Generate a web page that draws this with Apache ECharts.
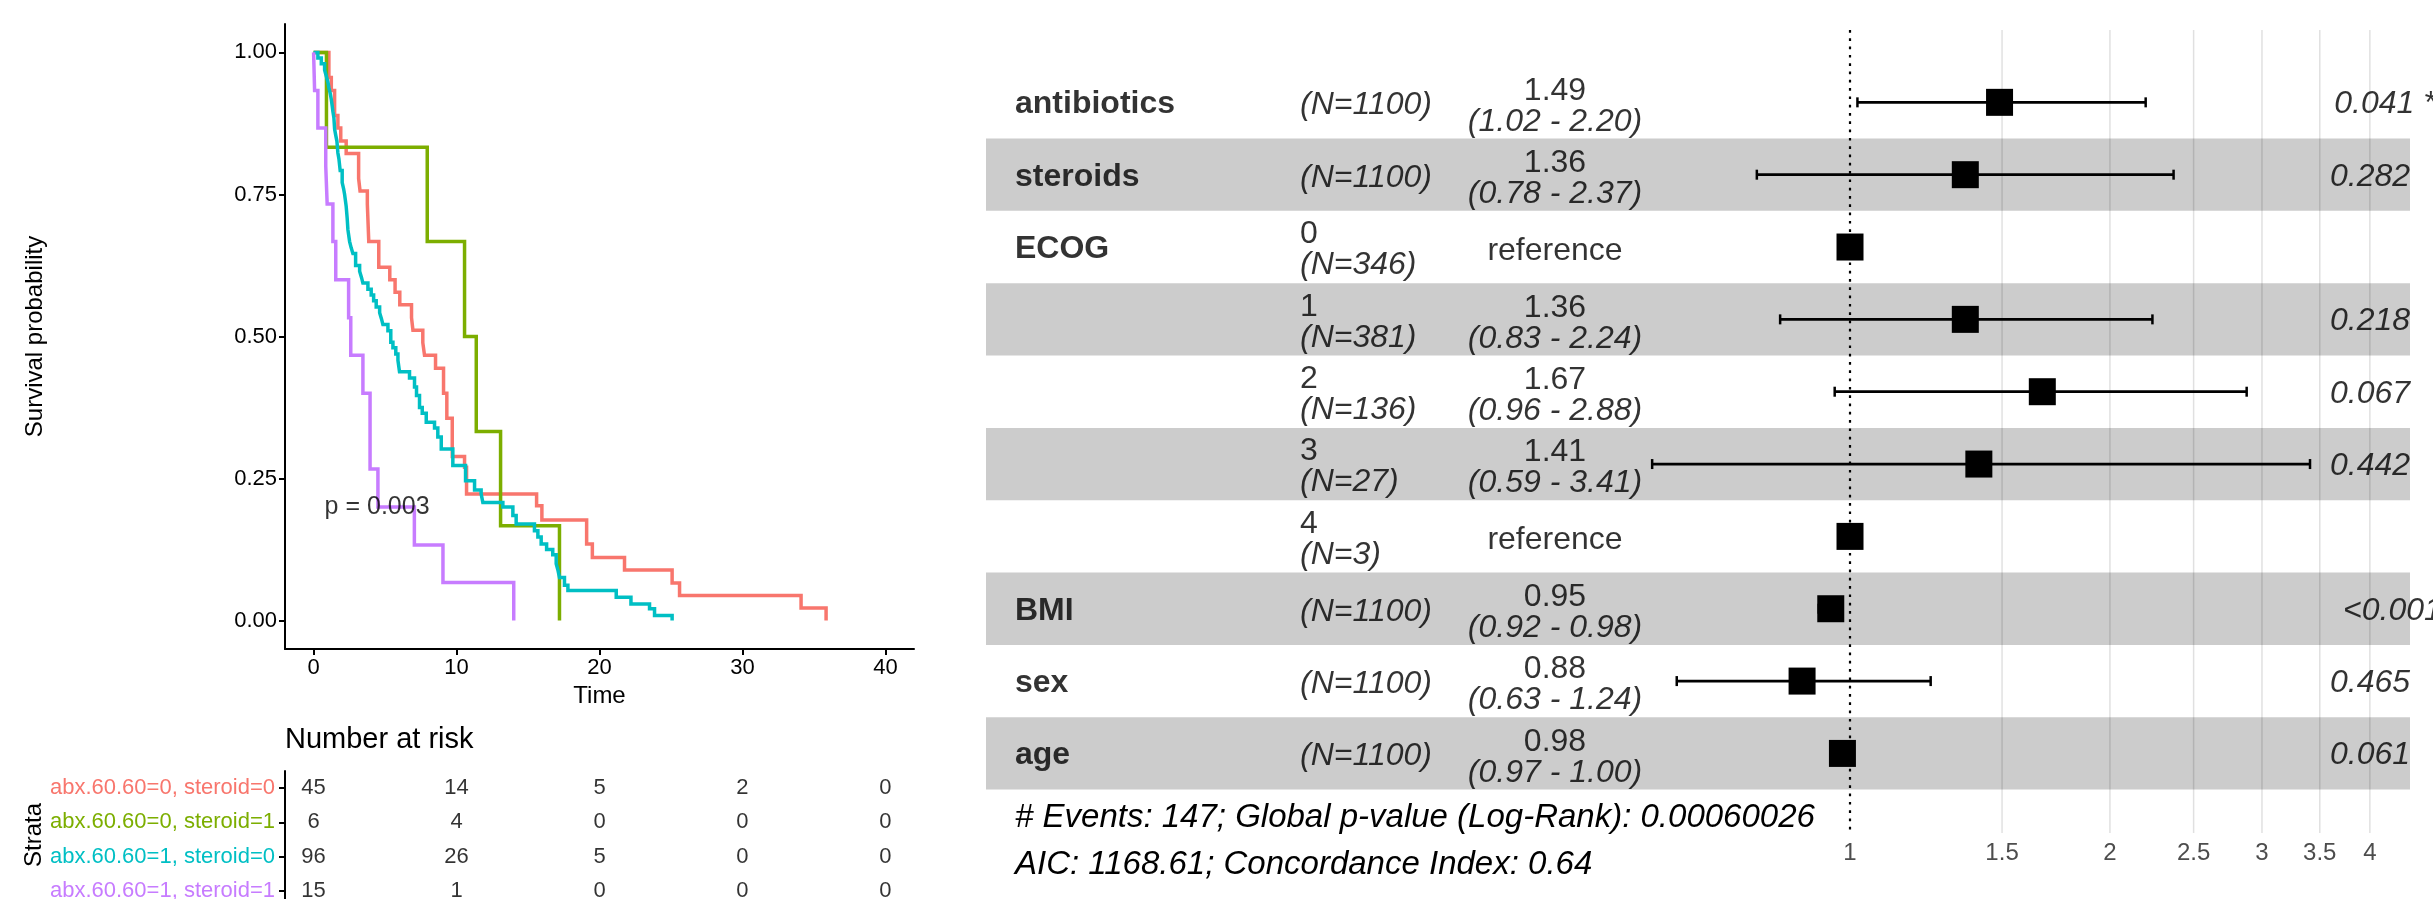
<!DOCTYPE html>
<html><head><meta charset="utf-8">
<script src="https://cdn.jsdelivr.net/npm/echarts@6/dist/echarts.min.js"></script>
<style>html,body{margin:0;padding:0;background:#fff}#c{width:2433px;height:899px}</style>
</head><body><div id="c"></div>
<script>
// ---------------- Kaplan-Meier data ----------------
const strataNames = ['abx.60.60=0, steroid=0', 'abx.60.60=0, steroid=1', 'abx.60.60=1, steroid=0', 'abx.60.60=1, steroid=1'];
const strataColors = ['#F8766D', '#7CAE00', '#00BFC4', '#C77CFF'];

const timeA0S0 = [0, 1.07, 1.24, 1.47, 1.7, 1.9, 2.28, 3.15, 3.25, 3.76, 3.86, 4.56, 5.33, 5.7, 6.03, 6.85, 6.95, 7.64, 7.76, 8.53, 9.09, 9.32, 9.7, 10.56, 10.7, 15.6, 15.97, 19.1, 19.5, 21.75, 25.08, 25.6, 34.1, 35.85];
const survA0S0 = [1, 0.956, 0.933, 0.889, 0.867, 0.844, 0.822, 0.778, 0.756, 0.733, 0.667, 0.622, 0.6, 0.578, 0.556, 0.533, 0.511, 0.489, 0.467, 0.444, 0.4, 0.356, 0.289, 0.27, 0.223, 0.202, 0.177, 0.135, 0.111, 0.089, 0.066, 0.044, 0.022, 0];

const timeA0S1 = [0, 0.9, 7.95, 10.56, 11.38, 13.08, 17.2];
const survA0S1 = [1, 0.833, 0.667, 0.5, 0.333, 0.167, 0];

const timeA1S0 = [0, 0.3, 0.54, 0.77, 0.89, 1.0, 1.07, 1.17, 1.24, 1.3, 1.35, 1.42, 1.47, 1.55, 1.63, 1.7, 1.77, 1.86, 2.0, 2.1, 2.17, 2.28, 2.35, 2.4, 2.52, 2.63, 2.75, 2.94, 3.22, 3.35, 3.45, 3.8, 4.03, 4.2, 4.38, 4.62, 4.75, 4.85, 5.2, 5.4, 5.55, 5.75, 5.9, 6.01, 6.71, 7.06, 7.2, 7.41, 7.6, 7.88, 8.46, 8.69, 8.93, 9.74, 10.63, 11.26, 11.72, 11.84, 13.24, 13.94, 14.17, 15.45, 15.69, 15.92, 16.3, 16.73, 16.97, 17.1, 17.2, 17.55, 17.79, 21.17, 22.2, 23.5, 23.85, 25.08];
const survA1S0 = [1, 0.99, 0.98, 0.969, 0.958, 0.948, 0.938, 0.927, 0.917, 0.906, 0.896, 0.885, 0.865, 0.854, 0.844, 0.823, 0.813, 0.792, 0.771, 0.76, 0.75, 0.729, 0.708, 0.688, 0.667, 0.656, 0.646, 0.625, 0.615, 0.604, 0.594, 0.583, 0.573, 0.563, 0.552, 0.542, 0.531, 0.521, 0.51, 0.49, 0.48, 0.469, 0.458, 0.438, 0.427, 0.411, 0.396, 0.375, 0.365, 0.349, 0.339, 0.323, 0.302, 0.273, 0.246, 0.23, 0.223, 0.208, 0.2, 0.185, 0.17, 0.158, 0.147, 0.135, 0.125, 0.116, 0.1, 0.088, 0.076, 0.062, 0.053, 0.041, 0.029, 0.021, 0.009, 0];

const timeA1S1 = [0, 0.07, 0.3, 0.85, 0.95, 1.35, 1.55, 2.45, 2.6, 3.45, 3.95, 4.5, 7.05, 9.05, 14.0];
const survA1S1 = [1, 0.933, 0.867, 0.8, 0.733, 0.667, 0.6, 0.533, 0.467, 0.4, 0.267, 0.2, 0.133, 0.067, 0];

const kmXTicks = [0, 10, 20, 30, 40];
const kmYTicks = [0, 0.25, 0.5, 0.75, 1];
const pValueLabel = 'p = 0.003';
const pValuePos = [0.77, 0.2];

// ---------------- Number at risk ----------------
const riskTimes = [0, 10, 20, 30, 40];
const riskA0S0 = [45, 14, 5, 2, 0];
const riskA0S1 = [6, 4, 0, 0, 0];
const riskA1S0 = [96, 26, 5, 0, 0];
const riskA1S1 = [15, 1, 0, 0, 0];

// ---------------- Forest plot data ----------------
const forestVars   = ['antibiotics', 'steroids', 'ECOG', '', '', '', '', 'BMI', 'sex', 'age'];
const forestLevels = ['', '', '0', '1', '2', '3', '4', '', '', ''];
const forestN      = [1100, 1100, 346, 381, 136, 27, 3, 1100, 1100, 1100];
const forestHR     = [1.49, 1.36, null, 1.36, 1.67, 1.41, null, 0.95, 0.88, 0.98];
const forestLow    = [1.02, 0.78, null, 0.83, 0.96, 0.59, null, 0.92, 0.63, 0.97];
const forestHigh   = [2.20, 2.37, null, 2.24, 2.88, 3.41, null, 0.98, 1.24, 1.00];
const forestP      = ['0.041 *', '0.282', '', '0.218', '0.067', '0.442', '', '<0.001 ***', '0.465', '0.061'];
const forestTicks  = [1, 1.5, 2, 2.5, 3, 3.5, 4];
const forestNote1 = '# Events: 147; Global p-value (Log-Rank): 0.00060026';
const forestNote2 = 'AIC: 1168.61; Concordance Index: 0.64';

// ---------------- layout constants ----------------
const FONT = '"Liberation Sans", Arial, Helvetica, sans-serif';
const ROW_MIN = -1, ROW_MAX = 10.1;
const TXT_W = 1424;               // text grid x units
const COL_NAME = 29, COL_N = 314, COL_HR = 569, COL_P = 1328;
const FOREST_MIN = 0.5134, FOREST_MAX = 4.452;
const FS = 32;
const FS_NOTE = 33;
const RISK_MIN = -0.5, RISK_MAX = 3.237;   // risk table rows (grid runs to the bottom edge)

const chart = echarts.init(document.getElementById('c'), null, {renderer: 'canvas'});

const kmSets = [[timeA0S0, survA0S0], [timeA0S1, survA0S1], [timeA1S0, survA1S0], [timeA1S1, survA1S1]];
const riskSets = [riskA0S0, riskA0S1, riskA1S0, riskA1S1];

const kmSeries = kmSets.map((s, j) => ({
  type: 'line', xAxisIndex: 0, yAxisIndex: 0, step: 'end', showSymbol: false, symbol: 'none',
  data: s[0].map((t, i) => [t, s[1][i]]),
  lineStyle: {color: strataColors[j], width: 3.5, join: 'miter'}, itemStyle: {color: strataColors[j]},
  z: 3 + j, silent: true
}));

const riskData = [];
riskSets.forEach((arr, j) => arr.forEach((v, k) => riskData.push([riskTimes[k], j, v])));
const strataIdx = strataNames.map((_, i) => i);

// p-value hjust = -0.2 offsets
const mctx = document.createElement('canvas').getContext('2d');
mctx.font = 'italic ' + FS + 'px ' + FONT;

const rows = forestVars.map((_, i) => i);
const bandRows = rows.filter(i => i % 2 === 1);

const richBase = {
  a: {fontSize: FS, lineHeight: 31, fontFamily: FONT, color: '#000'},
  b: {fontSize: FS, lineHeight: 31, fontFamily: FONT, color: '#000', fontStyle: 'italic'}
};
const richCenter = {
  a: Object.assign({}, richBase.a, {align: 'center'}),
  b: Object.assign({}, richBase.b, {align: 'center'})
};

const option = {
  animation: false,
  backgroundColor: '#fff',
  textStyle: {fontFamily: FONT},
  title: [
    {text: 'Number at risk', left: 285, top: 725, padding: 0, textStyle: {fontSize: 29, fontWeight: 'normal', color: '#000', fontFamily: FONT}},
    {text: forestNote1, left: 1015, top: 801, padding: 0, textStyle: {fontSize: FS_NOTE, fontWeight: 'normal', fontStyle: 'italic', color: '#000', fontFamily: FONT}},
    {text: forestNote2, left: 1015, top: 848, padding: 0, textStyle: {fontSize: FS_NOTE, fontWeight: 'normal', fontStyle: 'italic', color: '#000', fontFamily: FONT}}
  ],
  grid: [
    {left: 285, top: 24, width: 629, height: 625, outerBoundsMode: 'none', containLabel: false},     // KM
    {left: 285, top: 771, width: 629, height: 128, outerBoundsMode: 'none', containLabel: false},    // risk table
    {left: 986, top: 30, width: TXT_W, height: 803, outerBoundsMode: 'none', containLabel: false},   // forest text
    {left: 1600, top: 30, width: 810, height: 803, outerBoundsMode: 'none', containLabel: false}     // forest marks
  ],
  xAxis: [
    {gridIndex: 0, type: 'value', min: -2, max: 42,
     axisLine: {onZero: false, lineStyle: {color: '#000', width: 2}},
     axisTick: {customValues: kmXTicks, length: 6, lineStyle: {color: '#000', width: 2}},
     axisLabel: {customValues: kmXTicks, fontSize: 22, color: '#000', margin: 8},
     splitLine: {show: false},
     name: 'Time', nameLocation: 'middle', nameGap: 34, nameTextStyle: {fontSize: 24, color: '#000'}},
    {gridIndex: 1, type: 'value', min: -2, max: 42, show: false},
    {gridIndex: 2, type: 'value', min: 0, max: TXT_W, show: false},
    {gridIndex: 3, type: 'value', min: Math.log(FOREST_MIN), max: Math.log(FOREST_MAX),
     axisLine: {show: false}, axisTick: {show: false}, splitLine: {show: false},
     axisLabel: {customValues: forestTicks.map(v => Math.log(v)), fontSize: 24, color: '#4D4D4D', margin: 8,
       formatter: v => String(+Math.exp(v).toFixed(1))}}
  ],
  yAxis: [
    {gridIndex: 0, type: 'value', min: -0.05, max: 1.05,
     axisLine: {show: true, onZero: false, lineStyle: {color: '#000', width: 2}},
     axisTick: {show: true, customValues: kmYTicks, length: 6, lineStyle: {color: '#000', width: 2}},
     axisLabel: {customValues: kmYTicks, fontSize: 22, color: '#000', margin: 8, formatter: v => v.toFixed(2)},
     splitLine: {show: false},
     name: 'Survival probability', nameLocation: 'middle', nameGap: 238, nameRotate: 90,
     nameTextStyle: {fontSize: 24, color: '#000'}},
    {gridIndex: 1, type: 'value', min: RISK_MIN, max: RISK_MAX, inverse: true,
     axisLine: {show: true, onZero: false, lineStyle: {color: '#000', width: 2}},
     axisTick: {show: true, customValues: strataIdx, length: 6, lineStyle: {color: '#000', width: 2}},
     splitLine: {show: false},
     axisLabel: {customValues: strataIdx, margin: 10,
       formatter: v => '{s' + Math.round(v) + '|' + strataNames[Math.round(v)] + '}',
       rich: {s0: {color: strataColors[0], fontSize: 22}, s1: {color: strataColors[1], fontSize: 22},
              s2: {color: strataColors[2], fontSize: 22}, s3: {color: strataColors[3], fontSize: 22}}},
     name: 'Strata', nameLocation: 'middle', nameGap: 238, nameRotate: 90,
     nameTextStyle: {fontSize: 24, color: '#000'}},
    {gridIndex: 2, type: 'value', min: ROW_MIN, max: ROW_MAX, inverse: true, show: false},
    {gridIndex: 3, type: 'value', min: ROW_MIN, max: ROW_MAX, inverse: true, show: false}
  ],
  series: [
    ...kmSeries,
    {type: 'scatter', xAxisIndex: 0, yAxisIndex: 0, symbolSize: 0, silent: true, z: 10,
     data: [[pValuePos[0], pValuePos[1]]],
     label: {show: true, position: 'inside', align: 'left', verticalAlign: 'middle', formatter: () => pValueLabel,
             fontSize: 25, color: '#000'}},
    {type: 'scatter', xAxisIndex: 1, yAxisIndex: 1, symbolSize: 0, silent: true,
     data: riskData,
     label: {show: true, position: 'inside', formatter: p => String(p.value[2]), fontSize: 22, color: '#000'}},
    // bands
    {type: 'custom', xAxisIndex: 2, yAxisIndex: 2, z: 1, silent: true, clip: false,
     data: bandRows.map(r => [0, r]),
     renderItem: (params, api) => {
       const r = api.value(1);
       const p0 = api.coord([0, r - 0.5]);
       const p1 = api.coord([TXT_W, r + 0.5]);
       return {type: 'rect', shape: {x: p0[0], y: p0[1], width: p1[0] - p0[0], height: p1[1] - p0[1]}, style: {fill: '#CCCCCC'}};
     }},
    // grid lines
    {type: 'custom', xAxisIndex: 3, yAxisIndex: 3, z: 2, silent: true, clip: false,
     data: forestTicks.filter(v => v !== 1).map(v => [Math.log(v), 0]),
     renderItem: (params, api) => {
       const a = api.coord([api.value(0), ROW_MIN]);
       const b = api.coord([api.value(0), ROW_MAX]);
       return {type: 'line', shape: {x1: a[0], y1: a[1], x2: b[0], y2: b[1]}, style: {stroke: 'rgba(0,0,0,0.12)', lineWidth: 1.5}};
     }},
    // reference dotted line
    {type: 'custom', xAxisIndex: 3, yAxisIndex: 3, z: 3, silent: true, clip: false,
     data: [[Math.log(1), 0]],
     renderItem: (params, api) => {
       const a = api.coord([api.value(0), ROW_MIN]);
       const b = api.coord([api.value(0), ROW_MAX]);
       return {type: 'line', shape: {x1: a[0], y1: a[1], x2: b[0], y2: b[1]}, style: {stroke: '#000', lineWidth: 2.2, lineDash: [2.7, 5.6]}};
     }},
    // boxes and whiskers
    {type: 'custom', xAxisIndex: 3, yAxisIndex: 3, z: 10, silent: true, clip: false,
     data: rows.map(i => {
       const hr = forestHR[i] == null ? 1 : forestHR[i];
       const lo = forestLow[i] == null ? hr : forestLow[i];
       const hi = forestHigh[i] == null ? hr : forestHigh[i];
       return [Math.log(hr), i, Math.log(lo), Math.log(hi)];
     }),
     renderItem: (params, api) => {
       const row = api.value(1);
       const c = api.coord([api.value(0), row]);
       const a = api.coord([api.value(2), row]);
       const b = api.coord([api.value(3), row]);
       const kids = [];
       if (b[0] - a[0] > 0.5) {
         kids.push({type: 'line', shape: {x1: a[0], y1: a[1], x2: b[0], y2: b[1]}, style: {stroke: '#000', lineWidth: 2.8}});
         kids.push({type: 'line', shape: {x1: a[0], y1: a[1] - 5, x2: a[0], y2: a[1] + 5}, style: {stroke: '#000', lineWidth: 2.5}});
         kids.push({type: 'line', shape: {x1: b[0], y1: b[1] - 5, x2: b[0], y2: b[1] + 5}, style: {stroke: '#000', lineWidth: 2.5}});
       }
       kids.push({type: 'rect', shape: {x: c[0] - 13.5, y: c[1] - 13.5, width: 27, height: 27}, style: {fill: '#000'}});
       return {type: 'group', children: kids};
     }},
    // variable names
    {type: 'scatter', xAxisIndex: 2, yAxisIndex: 2, symbolSize: 0, silent: true, z: 6,
     data: rows.filter(i => forestVars[i]).map(i => [COL_NAME, i, forestVars[i]]),
     label: {show: true, position: 'inside', align: 'left', verticalAlign: 'middle', offset: [0, 2], formatter: p => p.value[2],
             fontSize: FS, fontWeight: 'bold', color: '#000', fontFamily: FONT}},
    // N / level column
    {type: 'scatter', xAxisIndex: 2, yAxisIndex: 2, symbolSize: 0, silent: true, z: 6,
     data: rows.map(i => [COL_N, i]),
     label: {show: true, position: 'inside', align: 'left', verticalAlign: 'middle', offset: [0, 3],
             formatter: p => {
               const i = p.value[1];
               const n = '{b|(N=' + forestN[i] + ')}';
               return forestLevels[i] ? '{a|' + forestLevels[i] + '}\n' + n : n;
             }, rich: richBase}},
    // HR column
    {type: 'scatter', xAxisIndex: 2, yAxisIndex: 2, symbolSize: 0, silent: true, z: 6,
     data: rows.map(i => [COL_HR, i]),
     label: {show: true, position: 'inside', align: 'center', verticalAlign: 'middle', offset: [0, 4],
             formatter: p => {
               const i = p.value[1];
               if (forestHR[i] == null) return '{a|reference}';
               return '{a|' + forestHR[i].toFixed(2) + '}\n{b|(' + forestLow[i].toFixed(2) + ' - ' + forestHigh[i].toFixed(2) + ')}';
             }, rich: richCenter}},
    // p-values
    {type: 'scatter', xAxisIndex: 2, yAxisIndex: 2, symbolSize: 0, silent: true, z: 6,
     data: rows.filter(i => forestP[i]).map(i => ({
       value: [COL_P, i, forestP[i]],
       label: {offset: [0.2 * mctx.measureText(forestP[i]).width, 2]}
     })),
     label: {show: true, position: 'inside', align: 'left', verticalAlign: 'middle', formatter: p => p.value[2],
             fontSize: FS, fontStyle: 'italic', color: '#000', fontFamily: FONT}}
  ]
};
chart.setOption(option);
</script>
</body></html>
